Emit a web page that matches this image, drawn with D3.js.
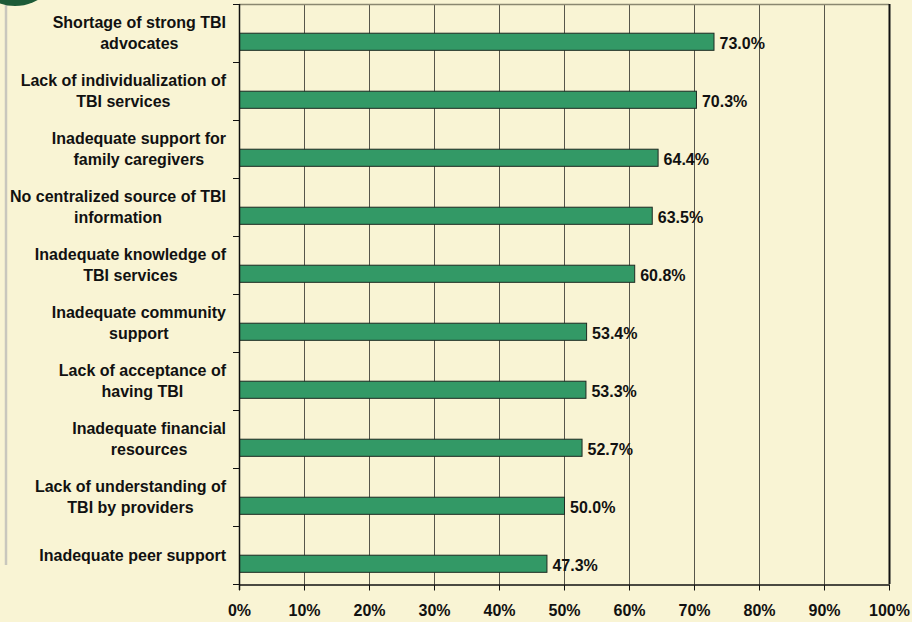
<!DOCTYPE html>
<html>
<head>
<meta charset="utf-8">
<script src="https://cdn.jsdelivr.net/npm/d3@7"></script>
<style>
  html, body { margin: 0; padding: 0; background: #F9F4D4; }
  svg { display: block; }
  text { font-family: "Liberation Sans", Arial, sans-serif; font-weight: bold; fill: #111; }
</style>
</head>
<body>
<svg id="chart"></svg>
<script>
// barriers to TBI services, % of respondents
const categories = [
  "Shortage of strong TBI\nadvocates",
  "Lack of individualization of\nTBI services",
  "Inadequate support for\nfamily caregivers",
  "No centralized source of TBI\ninformation",
  "Inadequate knowledge of\nTBI services",
  "Inadequate community\nsupport",
  "Lack of acceptance of\nhaving TBI",
  "Inadequate financial\nresources",
  "Lack of understanding of\nTBI by providers",
  "Inadequate peer support"
];
const values = [73.0, 70.3, 64.4, 63.5, 60.8, 53.4, 53.3, 52.7, 50.0, 47.3];
const xTicks = [0, 10, 20, 30, 40, 50, 60, 70, 80, 90, 100];

const W = 912, H = 622;
const plotL = 239, plotR = 889, plotT = 4, plotB = 584;

const svg = d3.select('#chart').attr('width', W).attr('height', H);

// decoration on the left: gray rule + green disc
svg.append('line')
  .attr('x1', 6).attr('x2', 6).attr('y1', 0).attr('y2', 565)
  .attr('stroke', '#c9c7bd').attr('stroke-width', 2.5);
svg.append('circle')
  .attr('cx', 15).attr('cy', -40).attr('r', 46)
  .attr('fill', '#1d5b38');

const x = d3.scaleLinear().domain([0, 100]).range([plotL, plotR]);
const y = d3.scaleBand().domain(categories).range([plotT, plotB]);
const bw = y.bandwidth();

// grid
svg.append('g').selectAll('line')
  .data(xTicks.slice(1, -1))
  .enter().append('line')
  .attr('x1', d => x(d) + 0.5).attr('x2', d => x(d) + 0.5)
  .attr('y1', plotT).attr('y2', plotB)
  .attr('stroke', '#57554a').attr('stroke-width', 1);

// plot border top / right
svg.append('line')
  .attr('x1', plotL).attr('x2', plotR).attr('y1', plotT + 0.5).attr('y2', plotT + 0.5)
  .attr('stroke', '#8a8770').attr('stroke-width', 1.5);
svg.append('line')
  .attr('x1', plotR + 0.5).attr('x2', plotR + 0.5).attr('y1', plotT).attr('y2', plotB)
  .attr('stroke', '#111').attr('stroke-width', 2);

// bars
svg.append('g').selectAll('rect')
  .data(values)
  .enter().append('rect')
  .attr('x', plotL + 0.5)
  .attr('y', (d, i) => y(categories[i]) + bw * 0.495 + 0.5)
  .attr('width', d => x(d) - plotL)
  .attr('height', bw * 0.295)
  .attr('fill', '#339966')
  .attr('stroke', '#1e2a22').attr('stroke-width', 1);

// value labels
svg.append('g').selectAll('text')
  .data(values)
  .enter().append('text')
  .attr('x', d => x(d) + 6)
  .attr('y', (d, i) => y(categories[i]) + bw * 0.64 + 2)
  .attr('dy', '0.36em')
  .attr('font-size', 16)
  .text(d => d.toFixed(1) + '%');

// x axis
const xAxis = d3.axisBottom(x)
  .tickValues(xTicks)
  .tickSize(6)
  .tickSizeOuter(0)
  .tickPadding(14)
  .tickFormat(d => d + '%');
const gx = svg.append('g').attr('transform', 'translate(0,' + (plotB + 0.5) + ')').call(xAxis);
gx.select('.domain').attr('stroke', '#111').attr('stroke-width', 1.5);
gx.selectAll('.tick line').attr('stroke', '#111');
gx.selectAll('.tick text').attr('font-size', 16).attr('font-family', '"Liberation Sans", Arial, sans-serif')
  .attr('font-weight', 'bold').attr('fill', '#111');

// y axis line + category boundary ticks
svg.append('line')
  .attr('x1', plotL + 0.5).attr('x2', plotL + 0.5).attr('y1', plotT).attr('y2', plotB + 6)
  .attr('stroke', '#111').attr('stroke-width', 1.5);
const edges = categories.map(c => y(c)).concat([plotB]);
svg.append('g').selectAll('line')
  .data(edges)
  .enter().append('line')
  .attr('x1', plotL - 6).attr('x2', plotL)
  .attr('y1', d => Math.round(d) + 0.5).attr('y2', d => Math.round(d) + 0.5)
  .attr('stroke', '#111');

// category labels: block right-aligned to the axis, lines centred inside the block
const lineH = 20.7, labelRight = 226;
const labels = svg.append('g').selectAll('text')
  .data(categories)
  .enter().append('text')
  .attr('text-anchor', 'middle')
  .attr('font-size', 16);
labels.selectAll('tspan')
  .data(d => d.split('\n'))
  .enter().append('tspan')
  .attr('dy', '0.36em')
  .text(d => d);
labels.each(function(d) {
  const t = d3.select(this);
  const spans = t.selectAll('tspan');
  let maxW = 0;
  spans.each(function() { maxW = Math.max(maxW, this.getComputedTextLength()); });
  const n = spans.size();
  const cy = y(d) + bw / 2 - (n - 1) * lineH / 2;
  spans.attr('x', labelRight - maxW / 2).attr('y', (s, i) => cy + i * lineH);
});
</script>
</body>
</html>
